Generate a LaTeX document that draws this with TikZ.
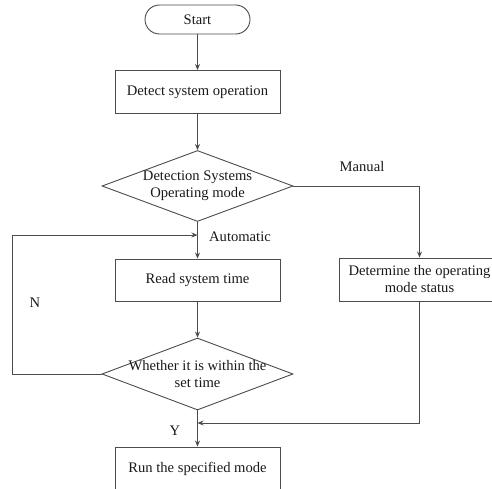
\documentclass[tikz,border=0pt]{standalone}
\usepackage{fontspec}
\setmainfont{Liberation Serif}
\usetikzlibrary{shapes.geometric,arrows.meta}
\begin{document}
\begin{tikzpicture}[x=1pt,y=-1pt,
  every node/.style={font=\fontsize{14.6}{17}\selectfont, text=black!90},
  box/.style={draw=black!70, line width=0.9pt, inner sep=0pt, align=center},
  term/.style={box, rounded corners=14.5pt, minimum width=105pt, minimum height=29pt},
  proc/.style={box, minimum width=165pt, minimum height=43pt},
  dec/.style={draw=black!70, line width=0.9pt, diamond, inner sep=0pt, minimum width=191pt, minimum height=71pt},
  lbl/.style={inner sep=0pt, align=center},
  conn/.style={draw=black!70, line width=0.9pt, -{Stealth[length=6pt,width=5pt]}}
]
\useasboundingbox (0,0) rectangle (492,489);
\clip (0,0) rectangle (492,489);
\node[term] (start) at (197.5,19.5) {Start};
\node[proc] (detect) at (197.5,92) {Detect system operation};
\node[dec] (d1) at (197.5,186) {};
\node[lbl] (d1t) at (d1) {Detection Systems\\Operating mode};
\node[proc, minimum height=42pt] (read) at (197.5,280) {Read system time};
\node[dec, minimum height=72pt] (d2) at (197.5,374) {};
\node[lbl] (d2t) at (d2) {Whether it is within the\\set time};
\node[box, minimum width=160pt, minimum height=43pt] (det) at (419.5,279.5) {Determine the operating\\mode status};
\node[proc, minimum height=44pt] (run) at (197.5,469) {Run the specified mode};
\coordinate (j1) at (197.5,235);
\coordinate (j2) at (197.5,423);
\coordinate (lp) at (12,374);
\draw[conn] (start) -- (detect);
\draw[conn] (detect) -- (d1.north);
\draw[conn] (d1.south) -- (read);
\draw[conn] (read) -- (d2.north);
\draw[conn] (d2.south) -- (run);
\draw[conn] (d2.west) -- (lp) |- (j1);
\draw[conn] (d1.east) -| (det.north);
\draw[conn] (det.south) |- (j2);
\node[lbl] (manual) at (362,167) {Manual};
\node[lbl] (auto) at (240,237) {Automatic};
\node[lbl] (n) at (35,303) {N};
\node[lbl] (y) at (175,431) {Y};
\end{tikzpicture}
\end{document}
